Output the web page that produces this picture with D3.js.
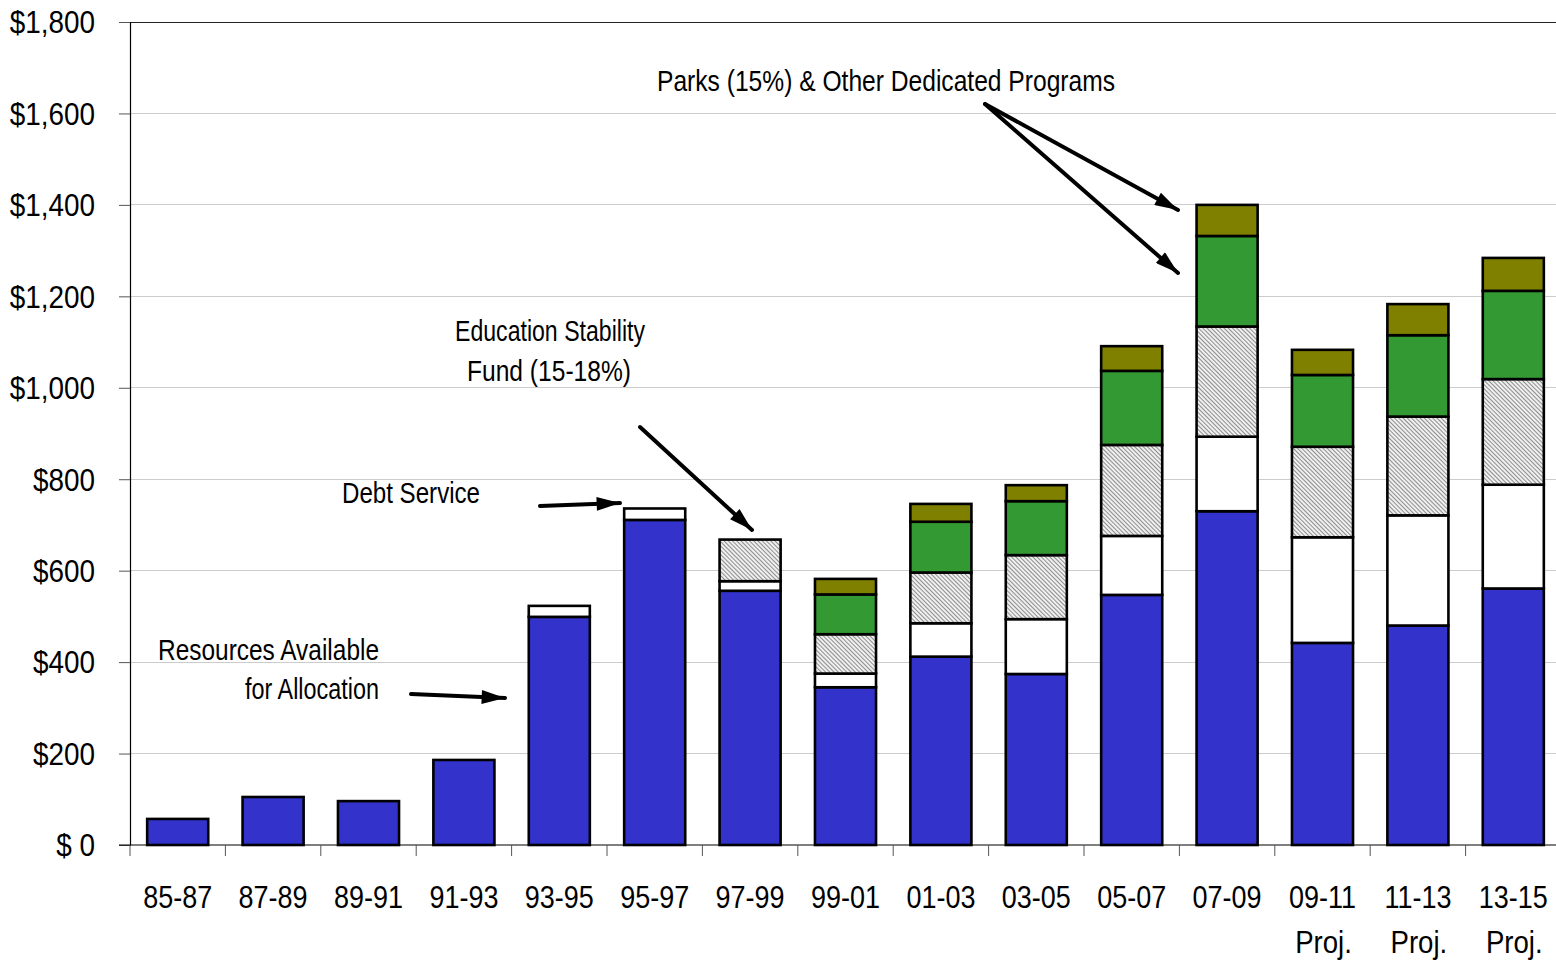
<!DOCTYPE html>
<html><head><meta charset="utf-8">
<script src="https://cdn.jsdelivr.net/npm/d3@7"></script>
<style>
body{margin:0;background:#fff;}
text{font-family:"Liberation Sans","Arial",sans-serif;fill:#000;}
</style></head>
<body><svg id="c" width="1556" height="962"></svg>
<script>
const categories = ["85-87","87-89","89-91","91-93","93-95","95-97","97-99","99-01","01-03","03-05","05-07","07-09","09-11","11-13","13-15"];
const subLabels  = ["","","","","","","","","","","","","Proj.","Proj.","Proj."];
const resources  = [57,105,96,186,499,711,556,345,412,374,547,730,442,480,561];
const debtService= [0,0,0,0,24,25,21,30,73,120,129,163,231,241,227];
const education  = [0,0,0,0,0,0,91,86,111,140,199,241,198,216,231];
const parks      = [0,0,0,0,0,0,0,87,111,118,162,198,157,178,193];
const otherDedic = [0,0,0,0,0,0,0,34,39,35,54,68,55,68,72];
const yTicks = [0,200,400,600,800,1000,1200,1400,1600,1800];

const seriesKeys = ["resources","debt","edu","parks","other"];
const seriesFill = {resources:"#3333CC",debt:"#FFFFFF",edu:"url(#hatch)",parks:"#339933",other:"#808000"};

const rows = categories.map((c,i)=>({cat:c,resources:resources[i],debt:debtService[i],edu:education[i],parks:parks[i],other:otherDedic[i]}));

const svg = d3.select("#c");
const mLeft=130,mRight=1561,mTop=22,mBottom=845,W=1556;

const defs = svg.append("defs");
const pat = defs.append("pattern").attr("id","hatch").attr("patternUnits","userSpaceOnUse")
  .attr("width",3).attr("height",3).attr("patternTransform","rotate(-45)");
pat.append("rect").attr("width",3).attr("height",3).attr("fill","#efefef");
pat.append("rect").attr("width",1).attr("height",3).attr("fill","#8e8e8e");

const y = d3.scaleLinear().domain([0,1800]).range([mBottom,mTop]);
const x = d3.scaleBand().domain(categories).range([mLeft,mRight]).paddingInner(0.36).paddingOuter(0.18);

// gridlines
svg.append("g").selectAll("line").data(yTicks.filter(t=>t>0)).join("line")
  .attr("x1",mLeft).attr("x2",W).attr("y1",d=>y(d)).attr("y2",d=>y(d))
  .attr("stroke",d=>d===1800?"#222":"#cccccc").attr("stroke-width",1).attr("shape-rendering","crispEdges");

// y axis
const ySx = 0.9;
const yAxis = d3.axisLeft(y).tickValues(yTicks).tickSize(11).tickPadding(24)
  .tickFormat(d=>d===0?"$ 0":"$"+d3.format(",")(d));
const gy = svg.append("g").attr("transform",`translate(${mLeft},0)`).call(yAxis);
gy.attr("font-family",null).attr("font-size",null);
gy.select(".domain").attr("stroke","#000").attr("stroke-width",1.2);
gy.selectAll(".tick line").attr("stroke","#555");
gy.selectAll("text").attr("font-size",31).attr("dy","0.35em")
  .attr("x",-35/ySx).attr("transform",`scale(${ySx},1)`);

// stacked bars
const stack = d3.stack().keys(seriesKeys)(rows);
const gb = svg.append("g");
stack.forEach(s=>{
  gb.selectAll(null).data(s.filter(d=>d[1]-d[0]>0)).join("rect")
    .attr("x",d=>x(d.data.cat)).attr("width",x.bandwidth())
    .attr("y",d=>y(d[1])).attr("height",d=>y(d[0])-y(d[1]))
    .attr("fill",seriesFill[s.key]).attr("stroke","#000").attr("stroke-width",2.6);
});

// x axis
const step = x.step();
const bounds = categories.map(c=>x(c)-step*0.18);
svg.append("line").attr("x1",mLeft-11).attr("x2",W).attr("y1",mBottom).attr("y2",mBottom)
  .attr("stroke","#000").attr("stroke-width",1.2);
svg.append("g").selectAll("line").data(bounds).join("line")
  .attr("x1",d=>d).attr("x2",d=>d).attr("y1",mBottom).attr("y2",mBottom+11)
  .attr("stroke","#555").attr("stroke-width",1);
const xSx = 0.87;
const gx = svg.append("g");
gx.selectAll("text.c").data(categories).join("text").attr("class","c")
  .attr("transform",d=>`translate(${x(d)+x.bandwidth()/2},908) scale(${xSx},1)`)
  .attr("text-anchor","middle").attr("font-size",31).text(d=>d);
gx.selectAll("text.s").data(categories.map((c,i)=>({c,s:subLabels[i]})).filter(d=>d.s)).join("text").attr("class","s")
  .attr("transform",d=>`translate(${x(d.c)+x.bandwidth()/2+1},953) scale(0.89,1)`)
  .attr("text-anchor","middle").attr("font-size",31).text(d=>d.s);

// annotations
defs.append("marker").attr("id","ah").attr("viewBox","0 0 10 6").attr("refX",10).attr("refY",3)
  .attr("markerUnits","userSpaceOnUse").attr("markerWidth",32).attr("markerHeight",14).attr("orient","auto")
  .append("path").attr("d","M0,0 L10,3 L0,6 Z").attr("fill","#000");
function arrow(x1,y1,x2,y2){
  svg.append("line").attr("x1",x1).attr("y1",y1).attr("x2",x2).attr("y2",y2)
    .attr("stroke","#000").attr("stroke-width",4).attr("stroke-linecap","round").attr("marker-end","url(#ah)");
}
function label(t,xx,yy,anchor,w){
  svg.append("text").attr("x",xx).attr("y",yy).attr("text-anchor",anchor).attr("font-size",29)
    .attr("textLength",w).attr("lengthAdjust","spacingAndGlyphs").text(t);
}
label("Parks (15%) & Other Dedicated Programs",886,91,"middle",458);
arrow(985,104,1178,210);
arrow(985,104,1178,273);
label("Education Stability",550,341,"middle",190);
label("Fund (15-18%)",549,381,"middle",164);
arrow(640,427,752,530);
label("Debt Service",411,503,"middle",138);
arrow(540,506,620,503);
label("Resources Available",379,660,"end",221);
label("for Allocation",379,699,"end",134);
arrow(411,694,505,698);
</script></body></html>
